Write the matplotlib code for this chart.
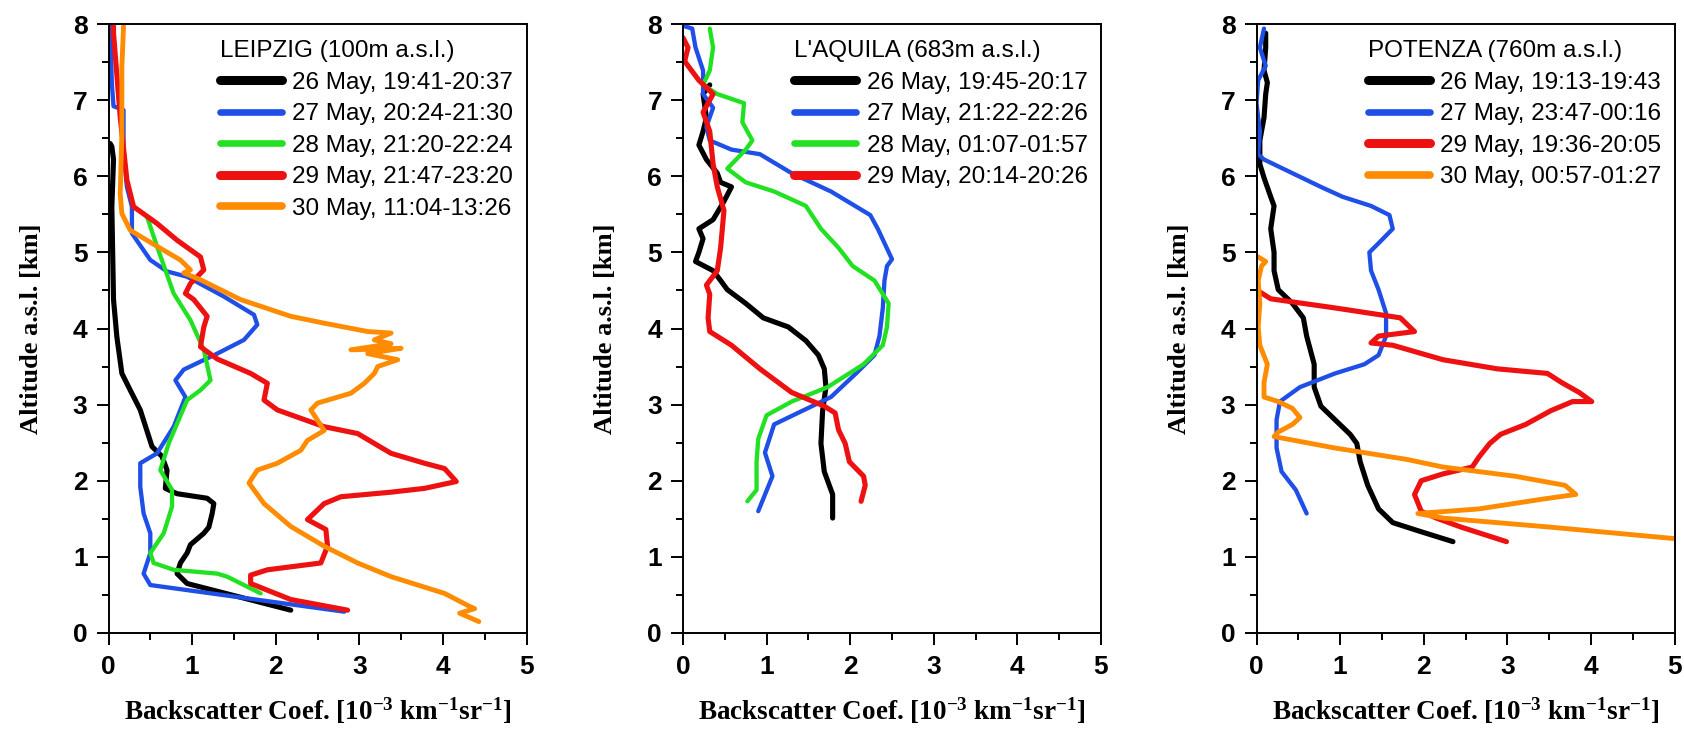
import matplotlib
matplotlib.use("Agg")
import matplotlib.pyplot as plt
from matplotlib.ticker import MultipleLocator
from matplotlib.font_manager import FontProperties

plt.rcParams["mathtext.fontset"] = "custom"
plt.rcParams["mathtext.rm"] = "Liberation Serif:bold"
plt.rcParams["mathtext.bf"] = "Liberation Serif:bold"
plt.rcParams["mathtext.it"] = "Liberation Serif:bold"

# ---------------- LEIPZIG ----------------
lei_title = "LEIPZIG (100m a.s.l.)"
lei_labels = ["26 May, 19:41-20:37", "27 May, 20:24-21:30", "28 May, 21:20-22:24",
              "29 May, 21:47-23:20", "30 May, 11:04-13:26"]
lei_colors = ["#000000", "#1f4fe6", "#22e022", "#ee1111", "#ff8c00"]

lei_b_26 = [2.18, 0.94, 0.82, 0.86, 0.94, 0.98, 1.14, 1.20, 1.24, 1.26, 1.18, 0.82, 0.68,
            0.70, 0.64, 0.52, 0.38, 0.26, 0.16, 0.10, 0.06, 0.04, 0.06, 0.04, 0.02]
lei_z_26 = [0.30, 0.65, 0.78, 0.92, 1.05, 1.16, 1.31, 1.39, 1.57, 1.70, 1.77, 1.83, 1.90,
            2.14, 2.32, 2.45, 2.93, 3.19, 3.41, 3.89, 4.38, 5.60, 6.22, 6.39, 6.43]

lei_b_27 = [2.82, 0.50, 0.42, 0.50, 0.50, 0.42, 0.38, 0.38, 0.58, 0.78, 0.92, 0.80, 0.90,
            1.30, 1.62, 1.78, 1.74, 1.38, 0.94, 0.70, 0.50, 0.28, 0.28, 0.22, 0.18, 0.18,
            0.06, 0.04, 0.02]
lei_z_27 = [0.28, 0.63, 0.78, 1.05, 1.31, 1.57, 1.92, 2.23, 2.36, 2.71, 3.10, 3.32, 3.46,
            3.67, 3.85, 4.05, 4.18, 4.42, 4.68, 4.75, 4.90, 5.25, 5.60, 5.86, 6.35, 6.87,
            6.92, 7.22, 7.97]

lei_b_28 = [1.82, 1.42, 1.30, 0.78, 0.54, 0.50, 0.66, 0.76, 0.76, 0.62, 0.72, 0.94, 1.10,
            1.22, 1.14, 0.98, 0.78, 0.58, 0.46]
lei_z_28 = [0.52, 0.74, 0.78, 0.83, 0.92, 1.05, 1.31, 1.66, 1.88, 2.14, 2.49, 3.06, 3.19,
            3.32, 3.72, 4.11, 4.46, 5.08, 5.47]

lei_b_29 = [2.86, 2.18, 1.70, 1.70, 1.90, 2.54, 2.62, 2.60, 2.38, 2.58, 2.78, 3.38, 3.78,
            4.16, 4.02, 3.78, 3.38, 3.18, 2.98, 2.58, 2.02, 1.86, 1.90, 1.70, 1.30, 1.10,
            1.14, 1.18, 1.02, 0.92, 0.98, 1.14, 1.10, 0.82, 0.58, 0.30, 0.22, 0.14, 0.06,
            0.06]
lei_z_29 = [0.30, 0.44, 0.65, 0.76, 0.83, 0.92, 1.14, 1.36, 1.49, 1.70, 1.79, 1.85, 1.90,
            1.99, 2.16, 2.23, 2.36, 2.49, 2.62, 2.71, 2.93, 3.06, 3.28, 3.41, 3.60, 3.76,
            4.02, 4.16, 4.38, 4.46, 4.59, 4.77, 4.94, 5.16, 5.38, 5.60, 5.95, 6.78, 7.88,
            7.97]

lei_b_30 = [4.43, 4.20, 4.38, 4.30, 4.02, 3.38, 2.98, 2.58, 2.18, 1.86, 1.68, 1.78, 2.02,
            2.30, 2.38, 2.58, 2.42, 2.50, 2.90, 3.06, 3.18, 3.22, 3.46, 3.10, 3.50, 2.90,
            3.38, 3.18, 3.38, 3.10, 2.58, 2.18, 1.58, 1.10, 0.90, 0.98, 0.86, 0.58, 0.26,
            0.16, 0.14, 0.16, 0.16, 0.18]
lei_z_30 = [0.15, 0.26, 0.32, 0.36, 0.52, 0.74, 0.92, 1.14, 1.40, 1.70, 1.97, 2.14, 2.23,
            2.40, 2.53, 2.66, 2.93, 3.02, 3.15, 3.28, 3.41, 3.50, 3.59, 3.67, 3.74, 3.72,
            3.80, 3.85, 3.94, 3.96, 4.07, 4.16, 4.38, 4.64, 4.73, 4.77, 4.90, 5.08, 5.29,
            5.51, 5.77, 6.56, 7.44, 7.97]

# ---------------- L'AQUILA ----------------
laq_title = "L'AQUILA (683m a.s.l.)"
laq_labels = ["26 May, 19:45-20:17", "27 May, 21:22-22:26", "28 May, 01:07-01:57",
              "29 May, 20:14-20:26"]
laq_colors = ["#000000", "#1f4fe6", "#22e022", "#ee1111"]

laq_b_26 = [1.79, 1.79, 1.69, 1.65, 1.67, 1.71, 1.69, 1.62, 1.47, 1.26, 0.96, 0.75, 0.53,
            0.45, 0.36, 0.15, 0.19, 0.24, 0.19, 0.36, 0.49, 0.58, 0.45, 0.41, 0.28, 0.19,
            0.24, 0.28, 0.24, 0.32]
laq_z_26 = [1.51, 1.82, 2.12, 2.49, 2.92, 3.23, 3.47, 3.65, 3.84, 4.02, 4.14, 4.33, 4.51,
            4.63, 4.76, 4.88, 5.00, 5.18, 5.31, 5.43, 5.67, 5.86, 5.92, 6.04, 6.22, 6.41,
            6.59, 6.77, 7.08, 7.20]

laq_b_27 = [0.90, 1.07, 0.98, 1.09, 1.43, 1.77, 2.07, 2.29, 2.35, 2.39, 2.41, 2.44, 2.50,
            2.33, 2.24, 1.77, 1.30, 0.92, 0.58, 0.32, 0.28, 0.36, 0.24, 0.24, 0.15, 0.11,
            0.02]
laq_z_27 = [1.60, 2.06, 2.37, 2.74, 2.92, 3.10, 3.41, 3.65, 3.90, 4.27, 4.63, 4.82, 4.91,
            5.31, 5.49, 5.80, 6.04, 6.29, 6.35, 6.47, 6.65, 6.90, 7.08, 7.39, 7.69, 7.94,
            7.97]

laq_b_28 = [0.77, 0.88, 0.88, 0.90, 1.00, 1.30, 1.73, 2.16, 2.39, 2.44, 2.46, 2.29, 2.03,
            1.86, 1.65, 1.47, 1.09, 0.75, 0.53, 0.75, 0.83, 0.71, 0.73, 0.41, 0.24, 0.32,
            0.36, 0.32]
laq_z_28 = [1.73, 1.88, 2.25, 2.55, 2.86, 3.04, 3.23, 3.53, 3.78, 4.02, 4.33, 4.63, 4.82,
            5.06, 5.31, 5.61, 5.80, 5.92, 6.10, 6.35, 6.47, 6.71, 6.96, 7.08, 7.20, 7.39,
            7.69, 7.94]

laq_b_29 = [2.13, 2.18, 2.16, 1.99, 1.94, 1.86, 1.82, 1.69, 1.30, 0.92, 0.58, 0.32, 0.30,
            0.32, 0.28, 0.41, 0.45, 0.49, 0.41, 0.36, 0.32, 0.24, 0.36, 0.19, 0.02, 0.06,
            0.00]
laq_z_29 = [1.73, 1.94, 2.06, 2.25, 2.49, 2.67, 2.89, 2.98, 3.16, 3.47, 3.78, 3.96, 4.14,
            4.45, 4.57, 4.76, 5.06, 5.55, 5.86, 6.16, 6.59, 6.84, 7.08, 7.26, 7.51, 7.69,
            7.82]

# ---------------- POTENZA ----------------
pot_title = "POTENZA (760m a.s.l.)"
pot_labels = ["26 May, 19:13-19:43", "27 May, 23:47-00:16", "29 May, 19:36-20:05",
              "30 May, 00:57-01:27"]
pot_colors = ["#000000", "#1f4fe6", "#ee1111", "#ff8c00"]

pot_b_26 = [2.35, 1.97, 1.63, 1.46, 1.33, 1.24, 1.20, 1.12, 0.94, 0.77, 0.69, 0.69, 0.60,
            0.56, 0.43, 0.26, 0.21, 0.21, 0.17, 0.21, 0.17, 0.09, 0.04, 0.04, 0.09, 0.11,
            0.13, 0.09, 0.11, 0.11]
pot_z_26 = [1.20, 1.33, 1.45, 1.63, 1.94, 2.25, 2.49, 2.61, 2.80, 2.98, 3.23, 3.53, 3.90,
            4.14, 4.33, 4.51, 4.76, 5.00, 5.31, 5.61, 5.73, 5.98, 6.16, 6.47, 6.77, 7.08,
            7.23, 7.39, 7.69, 7.88]

pot_b_27 = [0.60, 0.47, 0.30, 0.24, 0.24, 0.28, 0.52, 0.94, 1.29, 1.46, 1.55, 1.55, 1.46,
            1.37, 1.35, 1.46, 1.63, 1.59, 1.37, 1.03, 0.77, 0.43, 0.09, 0.02, 0.04, 0.00,
            0.02, 0.11, 0.04, 0.09]
pot_z_27 = [1.57, 1.88, 2.12, 2.43, 2.80, 3.04, 3.23, 3.41, 3.53, 3.65, 3.90, 4.20, 4.51,
            4.76, 5.00, 5.12, 5.31, 5.49, 5.61, 5.73, 5.86, 6.04, 6.22, 6.29, 6.59, 6.96,
            7.26, 7.45, 7.69, 7.94]

pot_b_29 = [2.99, 2.45, 2.15, 1.97, 1.89, 1.97, 2.23, 2.58, 2.66, 2.79, 2.92, 3.22, 3.52,
            3.78, 4.01, 3.86, 3.65, 3.48, 2.88, 2.23, 1.63, 1.37, 1.46, 1.89, 1.72, 0.94,
            0.17, 0.04]
pot_z_29 = [1.20, 1.39, 1.51, 1.60, 1.82, 2.00, 2.09, 2.18, 2.31, 2.49, 2.61, 2.74, 2.92,
            3.04, 3.04, 3.16, 3.29, 3.41, 3.47, 3.59, 3.78, 3.81, 3.90, 3.96, 4.14, 4.27,
            4.39, 4.48]

pot_b_30 = [5.00, 3.52, 2.23, 1.93, 2.66, 3.43, 3.82, 3.69, 3.09, 2.23, 1.80, 0.94, 0.21,
            0.26, 0.43, 0.52, 0.43, 0.26, 0.09, 0.09, 0.13, 0.04, 0.02, 0.04, 0.02, 0.06,
            0.11, 0.02]
pot_z_30 = [1.24, 1.39, 1.51, 1.57, 1.63, 1.76, 1.82, 1.94, 2.06, 2.18, 2.28, 2.43, 2.58,
            2.64, 2.74, 2.83, 2.95, 3.04, 3.10, 3.29, 3.53, 3.78, 4.02, 4.33, 4.63, 4.82,
            4.88, 4.94]

panels = [
    (lei_title, lei_labels, lei_colors,
     [(lei_b_26, lei_z_26), (lei_b_27, lei_z_27), (lei_b_28, lei_z_28),
      (lei_b_29, lei_z_29), (lei_b_30, lei_z_30)]),
    (laq_title, laq_labels, laq_colors,
     [(laq_b_26, laq_z_26), (laq_b_27, laq_z_27), (laq_b_28, laq_z_28),
      (laq_b_29, laq_z_29)]),
    (pot_title, pot_labels, pot_colors,
     [(pot_b_26, pot_z_26), (pot_b_27, pot_z_27), (pot_b_29, pot_z_29),
      (pot_b_30, pot_z_30)]),
]

# line weights per colour: black and red are drawn heavier
curve_lw = {"#000000": 3.7, "#1f4fe6": 3.1, "#22e022": 3.1, "#ee1111": 3.7, "#ff8c00": 3.5}
handle_lw = {"#000000": 6.5, "#1f4fe6": 4.8, "#22e022": 4.8, "#ee1111": 6.5, "#ff8c00": 5.5}

W, H = 1684, 731
fig = plt.figure(figsize=(W / 100, H / 100), dpi=100)
lefts = [108.5, 683, 1256.5]
ax_w, ax_top, ax_bot = 418, 24, 633

tick_fp = FontProperties(family="Liberation Sans", weight="bold", size=19)
xlabel_font = {"family": "Liberation Serif", "weight": "bold", "size": 19.5}
ylabel_font = {"family": "Liberation Serif", "weight": "bold", "size": 19}
legend_fp = FontProperties(family="Liberation Sans", size=17.5)

for left, (title, labels, colors, series) in zip(lefts, panels):
    ax = fig.add_axes([left / W, 1 - ax_bot / H, ax_w / W, (ax_bot - ax_top) / H])
    for (b, z), lab, col in zip(series, labels, colors):
        ax.plot(b, z, color=col, lw=curve_lw[col], label=lab,
                solid_joinstyle="round", solid_capstyle="round")
    ax.set_xlim(0, 5)
    ax.set_ylim(0, 8)
    ax.xaxis.set_major_locator(MultipleLocator(1))
    ax.xaxis.set_minor_locator(MultipleLocator(0.5))
    ax.yaxis.set_major_locator(MultipleLocator(1))
    ax.yaxis.set_minor_locator(MultipleLocator(0.5))
    ax.tick_params(which="major", direction="out", length=8.6, width=1.4,
                   top=False, right=False)
    ax.tick_params(axis="x", which="major", pad=7.5)
    ax.tick_params(axis="y", which="major", pad=6.5)
    ax.tick_params(which="minor", direction="out", length=5.2, width=1.4,
                   top=False, right=False)
    for sp in ax.spines.values():
        sp.set_linewidth(1.4)
    for t in ax.get_xticklabels() + ax.get_yticklabels():
        t.set_fontproperties(tick_fp)
    ax.set_xlabel(r"Backscatter Coef. [10$^{-3}$ km$^{-1}$sr$^{-1}$]", fontdict=xlabel_font)
    ax.set_ylabel("Altitude a.s.l. [km]", fontdict=ylabel_font)
    ax.xaxis.set_label_coords(0.5, -0.102)
    ax.yaxis.set_label_coords(-0.157, 0.5)
    leg = ax.legend(title=title, loc="upper right", bbox_to_anchor=(1.0, 0.995),
                    frameon=False, alignment="left", handlelength=2.55,
                    handletextpad=0.42, labelspacing=0.39, borderaxespad=0.0,
                    borderpad=0.55, prop=legend_fp, title_fontproperties=legend_fp)
    for ln, col in zip(leg.get_lines(), colors):
        ln.set_linewidth(handle_lw[col])

fig.savefig("out.png", dpi=100)
